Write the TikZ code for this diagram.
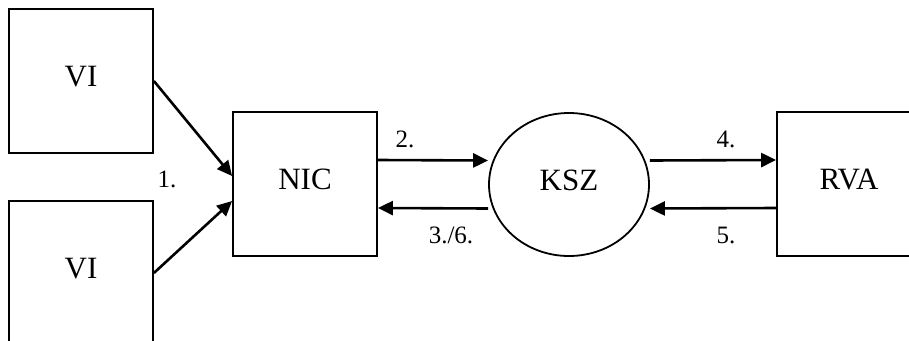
\documentclass[tikz,border=0pt]{standalone}
\usepackage{fontspec}
\setmainfont{Liberation Serif}
\usetikzlibrary{arrows.meta,shapes.geometric}
\tikzset{
  box/.style={draw,line width=1.8pt,minimum width=144pt,minimum height=144pt,inner sep=0pt,text depth=10pt,font=\fontsize{31}{34}\selectfont},
  oval/.style={draw,ellipse,line width=1.8pt,minimum width=160pt,minimum height=143pt,inner sep=0pt,text depth=8pt,font=\fontsize{31}{34}\selectfont},
  flow/.style={line width=2.6pt,-{Triangle[length=15pt,width=14pt]}},
  lbl/.style={font=\fontsize{25}{28}\selectfont,inner sep=0pt,anchor=base}
}
\begin{document}
\begin{tikzpicture}[x=1pt,y=-1pt]
\clip (0,0) rectangle (909,340);
\fill[white] (0,0) rectangle (909,340);
\node[box] (vi1) at (81,81) {VI};
\node[box] (vi2) at (81,273) {VI};
\node[box] (nic) at (305,184) {NIC};
\node[oval] (ksz) at (569,184.5) {KSZ};
\node[box] (rva) at (849,184) {RVA};
\draw[flow] (vi1.east) -- ([yshift=8pt]nic.west);
\draw[flow] (vi2.east) -- ([yshift=-17pt]nic.west);
\draw[flow] ([yshift=24pt]nic.east) -- ([yshift=24pt]ksz.west);
\draw[flow] ([yshift=-24pt]ksz.west) -- ([yshift=-24pt]nic.east);
\draw[flow] ([yshift=24pt]ksz.east) -- ([yshift=24pt]rva.west);
\draw[flow] ([yshift=-24pt]rva.west) -- ([yshift=-24pt]ksz.east);
\node[lbl] (l1) at (167,187) {1.};
\node[lbl] (l2) at (405,147) {2.};
\node[lbl] (l3) at (451,243) {3./6.};
\node[lbl] (l4) at (726,147) {4.};
\node[lbl] (l5) at (726,243) {5.};
\end{tikzpicture}
\end{document}
